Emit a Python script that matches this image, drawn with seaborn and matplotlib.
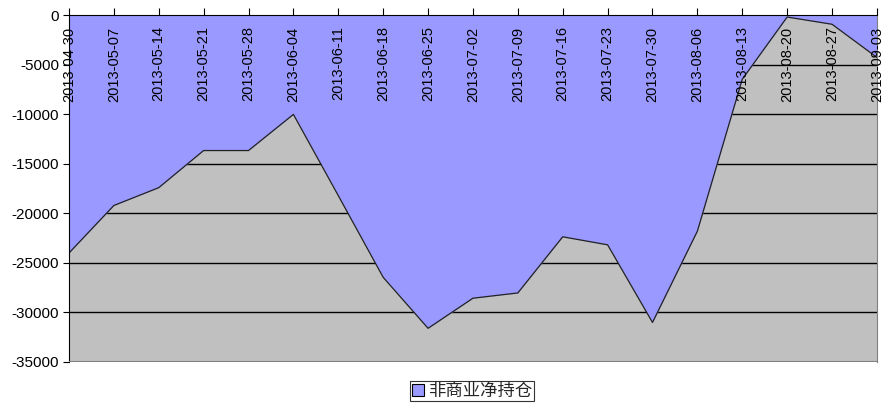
import matplotlib
matplotlib.use("Agg")
import matplotlib.pyplot as plt
from matplotlib.patches import Patch
import numpy as np
import pandas as pd
import seaborn as sns

dates = ['2013-04-30', '2013-05-07', '2013-05-14', '2013-05-21', '2013-05-28',
         '2013-06-04', '2013-06-11', '2013-06-18', '2013-06-25', '2013-07-02',
         '2013-07-09', '2013-07-16', '2013-07-23', '2013-07-30', '2013-08-06',
         '2013-08-13', '2013-08-20', '2013-08-27', '2013-09-03']
net_pos = [-24000, -19200, -17400, -13650, -13650,
           -10000, -18200, -26450, -31600, -28560,
           -28030, -22360, -23170, -31010, -21790,
           -6450, -170, -900, -4250]
series_name = '非商业净持仓'
y_ticks = [0, -5000, -10000, -15000, -20000, -25000, -30000, -35000]

df = pd.DataFrame({'idx': np.arange(len(dates)), 'value': net_pos})

sns.set_style("white")
plt.rcParams['font.family'] = ['Liberation Sans', 'Noto Sans CJK SC', 'DejaVu Sans']
plt.rcParams['axes.unicode_minus'] = False

fig = plt.figure(figsize=(8.84, 4.04), dpi=100)
ax = fig.add_axes([0.078, 0.104, 0.914, 0.858])
ax.set_facecolor('#C0C0C0')

# gridlines sit under the area, tick labels above it
for v in y_ticks[1:-1]:
    ax.axhline(v, color='black', linewidth=1.0, zorder=0.5)
ax.fill_between(df['idx'], df['value'], 0, color='#9999FF', zorder=1, linewidth=0)
sns.lineplot(data=df, x='idx', y='value', color='#222222', linewidth=0.9, ax=ax, zorder=1.5)

ax.set_xlim(0, len(dates) - 1)
ax.set_ylim(-35000, 0)
ax.set_yticks(y_ticks)
ax.set_yticklabels([str(v) for v in y_ticks], fontsize=11)
ax.grid(False)
ax.set_axisbelow(False)

# category axis crosses at 0 (top edge)
ax.spines['bottom'].set_position(('data', 0))
ax.spines['bottom'].set_color('black')
ax.spines['left'].set_color('black')
ax.spines['top'].set_visible(False)
ax.spines['right'].set_color('#808080')
ax.set_xticks(df['idx'])
ax.set_xticklabels(dates, rotation=90, va='top', ha='center', fontsize=10.5)
ax.tick_params(axis='x', direction='in', length=5, pad=8, bottom=True, top=False,
               colors='black')
ax.tick_params(axis='y', direction='out', length=4, pad=3, left=True, colors='black')
ax.set_xlabel('')
ax.set_ylabel('')

# bottom border of the plot area
ax.axhline(-35000, color='#808080', linewidth=1.5, zorder=4)

handle = Patch(facecolor='#9999FF', edgecolor='black', linewidth=0.8, label=series_name)
leg = fig.legend(handles=[handle], loc='center', bbox_to_anchor=(0.534, 0.032),
                 fontsize=12.5, frameon=True, fancybox=False, handlelength=0.7,
                 handleheight=0.7, handletextpad=0.2, borderpad=0.1, borderaxespad=0)
leg.get_frame().set_edgecolor('black')
leg.get_frame().set_linewidth(0.8)

fig.savefig('out.png', dpi=100)
